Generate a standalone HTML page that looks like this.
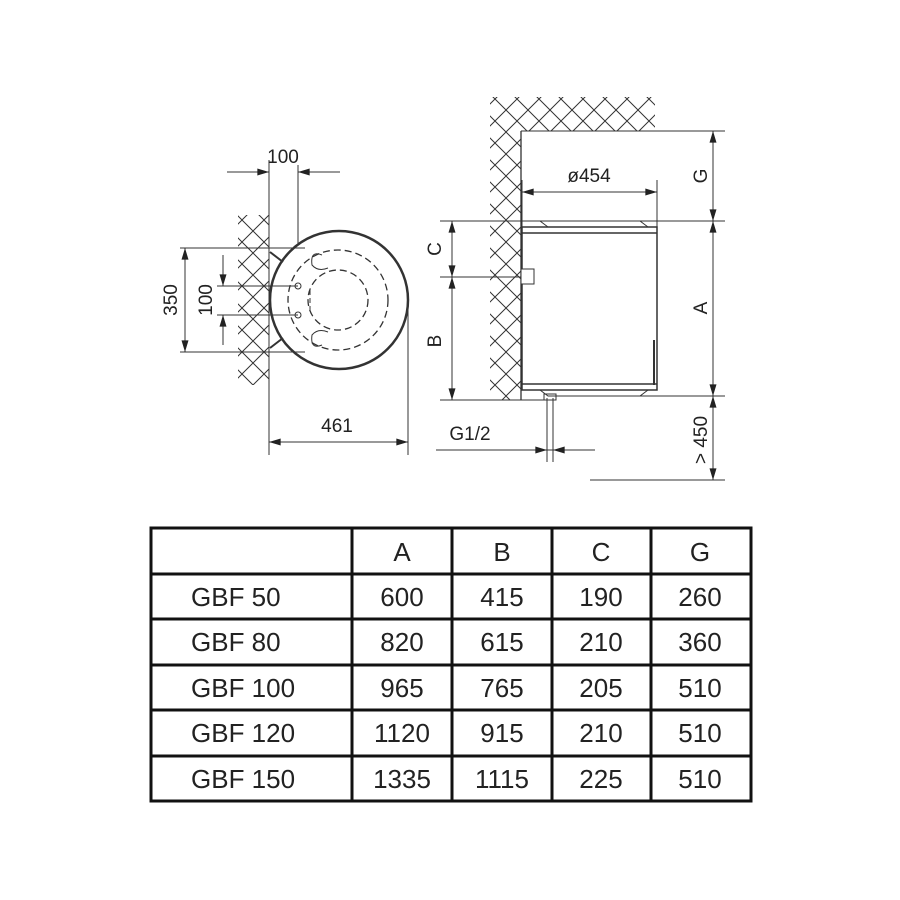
<!DOCTYPE html>
<html><head><style>
body{margin:0;background:#fff}
svg{display:block}
text{font-family:"Liberation Sans",sans-serif;fill:#222}
</style></head><body>
<svg width="900" height="900" viewBox="0 0 900 900" xmlns="http://www.w3.org/2000/svg">
<defs>
<pattern id="h" width="22" height="22" patternUnits="userSpaceOnUse">
<path d="M0 0L22 22M22 0L0 22" stroke="#333" stroke-width="1"/>
</pattern>
<marker id="a" viewBox="0 0 10 6" refX="10" refY="3" markerWidth="16" markerHeight="7" orient="auto-start-reverse" markerUnits="userSpaceOnUse">
<path d="M0 0L10 3L0 6z" fill="#222"/>
</marker>
</defs>
<g stroke="#333" stroke-width="1" fill="none">
<rect x="238" y="215" width="31" height="170" fill="url(#h)" stroke="none"/>
<line x1="269" y1="160" x2="269" y2="455"/>
<line x1="227" y1="172" x2="269" y2="172"/>
<line x1="298" y1="172" x2="340" y2="172"/>
<line x1="250" y1="172" x2="269" y2="172" marker-end="url(#a)"/>
<line x1="320" y1="172" x2="298" y2="172" marker-end="url(#a)"/>
<line x1="298" y1="165" x2="298" y2="290"/>
<circle cx="339" cy="300" r="69" stroke-width="2.5" fill="#fff"/>
<line x1="270" y1="252" x2="283" y2="262" stroke-width="2"/>
<line x1="270" y1="348" x2="283" y2="338" stroke-width="2"/>
<circle cx="338" cy="300" r="30" stroke-dasharray="7 4" stroke-width="1.3"/>
<circle cx="338" cy="300" r="50" stroke-dasharray="7 4" stroke-width="1.3"/>
<path d="M322 255 Q310 250 312 265 Q318 272 328 268 M322 345 Q310 350 312 335 Q318 328 328 332" />
<path d="M310 290 L310 310" stroke-dasharray="5 3"/>
<circle cx="298" cy="286" r="3"/>
<circle cx="298" cy="315" r="3"/>
<line x1="180" y1="248" x2="305" y2="248"/>
<line x1="180" y1="352" x2="305" y2="352"/>
<line x1="185" y1="300" x2="185" y2="248" marker-end="url(#a)"/>
<line x1="185" y1="300" x2="185" y2="352" marker-end="url(#a)"/>
<line x1="217" y1="286" x2="298" y2="286"/>
<line x1="217" y1="315" x2="298" y2="315"/>
<line x1="223" y1="255" x2="223" y2="286" marker-end="url(#a)"/>
<line x1="223" y1="345" x2="223" y2="315" marker-end="url(#a)"/>
<line x1="408" y1="300" x2="408" y2="455"/>
<line x1="269" y1="442" x2="408" y2="442" marker-start="url(#a)" marker-end="url(#a)"/>
<rect x="490" y="97" width="31" height="303" fill="url(#h)" stroke="none"/>
<rect x="521" y="97" width="134" height="34" fill="url(#h)" stroke="none"/>
<line x1="521" y1="131" x2="725" y2="131"/>
<line x1="521" y1="131" x2="521" y2="400" stroke-width="1.3"/>
<line x1="522" y1="180" x2="522" y2="230"/>
<line x1="657" y1="180" x2="657" y2="390"/>
<line x1="522" y1="192" x2="657" y2="192" marker-start="url(#a)" marker-end="url(#a)"/>
<line x1="440" y1="221" x2="725" y2="221"/>
<path d="M540 221 L548 227 M640 221 L648 227"/>
<rect x="522" y="227" width="135" height="163" stroke-width="1.5"/>
<line x1="522" y1="233" x2="657" y2="233" stroke-width="1.5"/>
<line x1="522" y1="384" x2="657" y2="384" stroke-width="1.5"/>
<path d="M540 390 L548 396 L640 396 L648 390"/>
<line x1="654" y1="340" x2="654" y2="385" stroke-width="2"/>
<rect x="521" y="269" width="13" height="15" fill="#fff"/>
<line x1="440" y1="277" x2="521" y2="277"/>
<line x1="440" y1="400" x2="545" y2="400"/>
<line x1="560" y1="396" x2="725" y2="396"/>
<line x1="452" y1="221" x2="452" y2="277" marker-start="url(#a)" marker-end="url(#a)"/>
<line x1="452" y1="277" x2="452" y2="400" marker-start="url(#a)" marker-end="url(#a)"/>
<line x1="713" y1="131" x2="713" y2="221" marker-start="url(#a)" marker-end="url(#a)"/>
<line x1="713" y1="221" x2="713" y2="396" marker-start="url(#a)" marker-end="url(#a)"/>
<line x1="713" y1="396" x2="713" y2="480" marker-start="url(#a)" marker-end="url(#a)"/>
<line x1="590" y1="480" x2="725" y2="480"/>
<line x1="547" y1="398" x2="547" y2="462"/>
<line x1="553" y1="398" x2="553" y2="462"/>
<rect x="544" y="394" width="12" height="6"/>
<line x1="436" y1="450" x2="595" y2="450"/>
<line x1="520" y1="450" x2="547" y2="450" marker-end="url(#a)"/>
<line x1="575" y1="450" x2="553" y2="450" marker-end="url(#a)"/>
</g>
<g font-size="19">
<text x="283" y="163" text-anchor="middle">100</text>
<text x="337" y="432" text-anchor="middle">461</text>
<text transform="translate(177,300) rotate(-90)" text-anchor="middle">350</text>
<text transform="translate(212,300) rotate(-90)" text-anchor="middle">100</text>
<text x="589" y="182" text-anchor="middle">ø454</text>
<text x="470" y="440" text-anchor="middle">G1/2</text>
<text transform="translate(441,249) rotate(-90)" text-anchor="middle">C</text>
<text transform="translate(441,341) rotate(-90)" text-anchor="middle">B</text>
<text transform="translate(707,176) rotate(-90)" text-anchor="middle">G</text>
<text transform="translate(707,308) rotate(-90)" text-anchor="middle">A</text>
<text transform="translate(707,440) rotate(-90)" text-anchor="middle">&gt; 450</text>
</g>
<g stroke="#111" stroke-width="3" fill="none">
<rect x="151" y="528" width="600" height="273"/>
<line x1="352" y1="528" x2="352" y2="801"/>
<line x1="452" y1="528" x2="452" y2="801"/>
<line x1="552" y1="528" x2="552" y2="801"/>
<line x1="651" y1="528" x2="651" y2="801"/>
<line x1="151" y1="574" x2="751" y2="574"/>
<line x1="151" y1="619" x2="751" y2="619"/>
<line x1="151" y1="665" x2="751" y2="665"/>
<line x1="151" y1="710" x2="751" y2="710"/>
<line x1="151" y1="756" x2="751" y2="756"/>
</g>
<g font-size="26">
<g text-anchor="middle">
<text x="402" y="561">A</text><text x="502" y="561">B</text><text x="601" y="561">C</text><text x="700" y="561">G</text>
<text x="402" y="606">600</text><text x="502" y="606">415</text><text x="601" y="606">190</text><text x="700" y="606">260</text>
<text x="402" y="651">820</text><text x="502" y="651">615</text><text x="601" y="651">210</text><text x="700" y="651">360</text>
<text x="402" y="697">965</text><text x="502" y="697">765</text><text x="601" y="697">205</text><text x="700" y="697">510</text>
<text x="402" y="742">1120</text><text x="502" y="742">915</text><text x="601" y="742">210</text><text x="700" y="742">510</text>
<text x="402" y="788">1335</text><text x="502" y="788">1115</text><text x="601" y="788">225</text><text x="700" y="788">510</text>
</g>
<text x="191" y="606">GBF 50</text>
<text x="191" y="651">GBF 80</text>
<text x="191" y="697">GBF 100</text>
<text x="191" y="742">GBF 120</text>
<text x="191" y="788">GBF 150</text>
</g>
</svg>
</body></html>
